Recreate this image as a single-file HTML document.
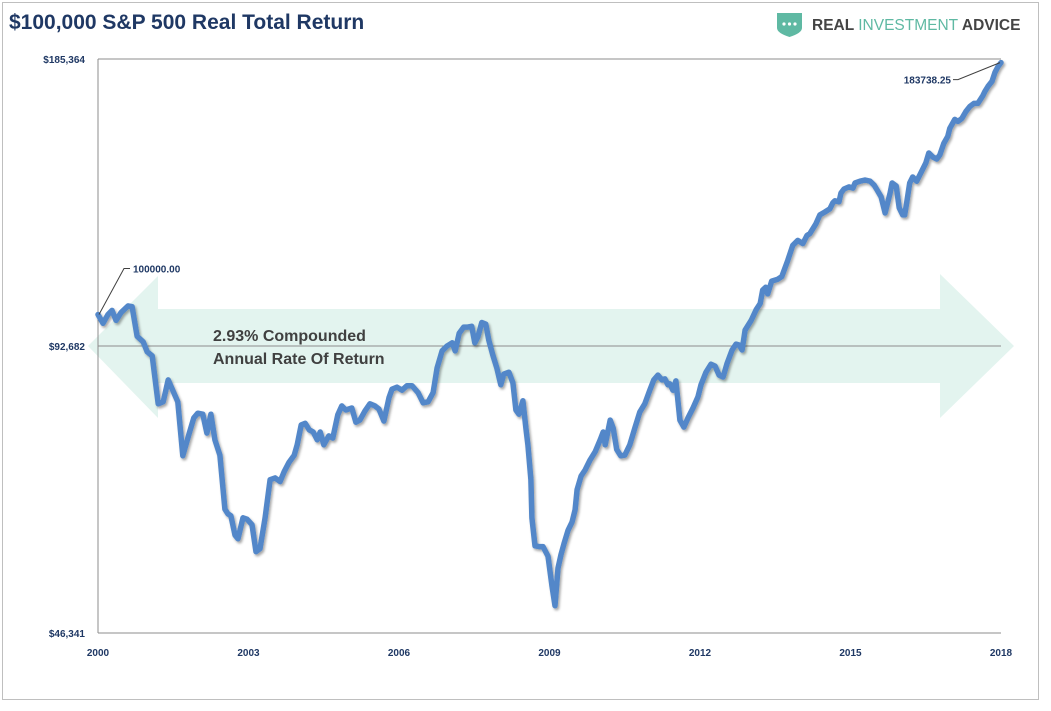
<!DOCTYPE html>
<html><head><meta charset="utf-8"><style>
html,body{margin:0;padding:0;background:#fff;}
body{width:1051px;height:706px;overflow:hidden;font-family:"Liberation Sans",sans-serif;}
</style></head><body>
<svg width="1051" height="706" viewBox="0 0 1051 706" xmlns="http://www.w3.org/2000/svg">
<defs><filter id="sh" x="-5%" y="-5%" width="110%" height="110%"><feDropShadow dx="1.5" dy="2" stdDeviation="1.2" flood-color="#000" flood-opacity="0.35"/></filter></defs>
<rect x="2.5" y="2.5" width="1036" height="697" fill="#fff" stroke="#bfbfbf"/>
<text x="9" y="29" font-size="21" font-weight="bold" fill="#1f3864">$100,000 S&amp;P 500 Real Total Return</text>
<g>
<path d="M777,13 L802,13 L802,28 Q802,33 789.5,37 Q777,33 777,28 Z" fill="#5fb9a3"/>
<circle cx="784" cy="24" r="1.6" fill="#fff"/><circle cx="789.5" cy="24" r="1.6" fill="#fff"/><circle cx="795" cy="24" r="1.6" fill="#fff"/>
<text x="812" y="30" font-size="15.5" font-weight="bold" fill="#444">REAL <tspan fill="#5fb9a3" font-weight="normal">INVESTMENT</tspan> ADVICE</text>
</g>
<polygon points="88,346 158,276 158,309 940,309 940,274 1014,346 940,418 940,383 158,383 158,418" fill="#e3f4ef"/>
<g id="axes"></g>
<g id="series"></g>
<text x="213" y="341" font-size="16" font-weight="bold" fill="#404040">2.93% Compounded</text>
<text x="213" y="364" font-size="16" font-weight="bold" fill="#404040">Annual Rate Of Return</text>
</svg>
<script>
const dates=[0,.10,.20,.28,.36,.46,.60,.68,.78,.90,.98,1.08,1.20,
1.30,1.40,1.49,1.59,1.69,1.81,1.91,1.99,2.09,2.17,2.25,2.33,2.43,2.53,2.59,
2.65,2.73,2.79,2.89,2.97,3.07,3.15,3.23,3.33,3.43,3.53,3.63,3.71,3.81,3.91,3.97,4.05,
4.13,4.21,4.29,4.37,4.43,4.50,4.60,4.68,4.78,4.86,4.94,5.06,5.14,5.22,5.32,5.42,5.52,
5.60,5.70,5.80,5.86,5.96,6.06,6.16,6.26,6.38,6.48,6.58,6.68,6.76,6.86,6.96,7.06,
7.12,7.20,7.29,7.37,7.45,7.51,7.57,7.65,7.73,7.79,7.87,7.95,8.03,8.09,8.19,8.27,8.33,8.39,8.47,
8.53,8.57,8.63,8.65,8.71,8.79,8.87,8.97,9.05,9.11,9.17,9.23,9.29,9.37,9.45,9.51,9.55,9.63,9.71,9.81,9.91,10.01,
10.07,10.11,10.21,10.27,10.34,10.42,10.50,10.60,10.70,10.80,10.90,11.00,11.08,11.16,11.24,11.30,11.36,11.40,11.46,
11.52,11.60,11.68,11.76,11.86,11.96,12.02,12.12,12.22,12.30,12.38,12.46,12.54,12.64,12.72,12.78,12.84,12.90,
13.02,13.12,13.20,13.25,13.31,13.35,13.43,13.55,13.63,13.75,13.85,13.95,14.05,14.13,14.19,14.31,14.39,
14.49,14.59,14.65,14.69,14.77,14.81,14.87,14.97,15.05,15.09,15.19,15.29,15.39,15.47,15.53,15.61,15.69,
15.79,15.83,15.91,15.97,16.04,16.08,16.12,16.18,16.24,16.32,16.40,16.50,16.56,16.64,16.72,16.78,16.86,
16.94,16.98,17.08,17.14,17.22,17.30,17.38,17.46,17.54,17.64,17.68,17.74,17.82,17.88,17.94,18.00];
const values=[100.0,97.9,100.0,101.0,98.6,100.5,102.1,101.9,94.9,93.6,91.4,90.5,80.6,
81.0,85.4,83.3,81.0,71.1,74.8,77.9,78.8,78.6,75.1,78.6,73.9,71.2,62.5,61.8,
61.5,58.7,58.2,61.2,61.0,60.2,56.4,56.8,61.2,67.1,67.4,66.8,68.4,70.0,71.2,73.0,76.6,
76.9,75.7,75.3,73.9,75.3,73.0,74.6,74.2,78.5,80.2,79.4,79.8,77.1,77.5,79.2,80.6,80.2,
79.6,77.3,81.8,83.5,83.9,83.3,84.2,84.2,82.8,80.8,81.0,82.8,87.9,91.6,92.7,93.4,
91.6,95.6,97.0,97.0,97.2,93.4,94.7,98.1,97.7,94.0,90.7,87.9,84.4,86.6,87.0,84.8,79.4,78.6,81.2,
76.0,73.0,67.1,61.2,57.2,57.1,57.1,55.8,51.9,49.5,54.2,56.0,57.5,59.4,60.6,62.4,65.5,67.7,68.7,70.4,71.8,73.9,
75.3,73.0,77.5,76.0,72.2,71.1,71.2,73.0,76.0,79.0,80.6,83.3,85.4,86.4,85.4,85.6,84.4,84.6,83.3,
85.2,77.5,76.2,77.9,79.8,82.0,84.4,87.0,88.7,88.3,86.4,86.0,88.9,91.8,93.1,92.9,91.8,96.3,
98.6,101.2,102.7,106.1,106.8,105.1,108.4,108.9,109.6,114.0,118.2,119.6,118.7,121.0,121.6,124.5,127.2,
128.1,129.1,131.0,131.6,131.3,134.1,135.4,136.1,135.7,137.4,138.0,138.4,138.0,136.7,135.1,132.9,127.8,
134.1,137.4,136.4,129.4,127.2,127.2,131.0,137.4,139.4,138.0,140.7,144.2,147.7,146.3,145.6,147.0,151.2,
153.8,156.8,160.2,159.4,160.6,163.3,165.3,166.5,166.5,169.7,171.4,173.5,175.6,179.5,182.0,183.738];
const yTicks=[46.341,92.682,185.364];
const yTickLabels=["$46,341","$92,682","$185,364"];
const xTicks=[0,3,6,9,12,15,18];
const xTickLabels=["2000","2003","2006","2009","2012","2015","2018"];
const firstLabel="100000.00", lastLabel="183738.25";

const NS="http://www.w3.org/2000/svg";
const X0=98,X1=1001,YT=59,YB=633;
const xS=d=>X0+(d-0)/(18-0)*(X1-X0);
const lmin=Math.log(46.341),lmax=Math.log(185.364);
const yS=v=>YB-(Math.log(v)-lmin)/(lmax-lmin)*(YB-YT);
function mk(tag,attrs,parent){const e=document.createElementNS(NS,tag);for(const k in attrs)e.setAttribute(k,attrs[k]);parent.appendChild(e);return e;}
const ax=document.getElementById('axes'), sr=document.getElementById('series');
yTicks.forEach((t,i)=>{
  const y=yS(t);
  if(i>0){const g=mk('line',{x1:X0,x2:X1,y1:y,y2:y,stroke:'#8c8c8c','stroke-width':1},ax);
  
  }
  const tx=mk('text',{x:85,y:y+4,'text-anchor':'end','font-size':10,'font-weight':'bold',fill:'#1f3864'},ax);
  tx.textContent=yTickLabels[i];
  
  
});
const yl=mk('line',{x1:X0,x2:X0,y1:YT,y2:YB,stroke:'#8c8c8c'},ax);


const xl=mk('line',{x1:X0,x2:X1,y1:YB,y2:YB,stroke:'#8c8c8c'},ax);


xTicks.forEach((t,i)=>{
  const tx=mk('text',{x:xS(t),y:656,'text-anchor':'middle','font-size':10,'font-weight':'bold',fill:'#1f3864'},ax);
  tx.textContent=xTickLabels[i];
  
  
});
let d='';
dates.forEach((t,i)=>{d+=(i?'L':'M')+xS(t).toFixed(1)+','+yS(values[i]).toFixed(1);});
const p=mk('path',{d:d,fill:'none',stroke:'#5287c9','stroke-width':5.5,'stroke-linejoin':'round','stroke-linecap':'round',filter:'url(#sh)'},sr);


const fx=xS(dates[0]),fy=yS(values[0]);
const l1=mk('polyline',{points:`${fx+1},${fy} ${fx+26},${fy-46} ${fx+32},${fy-46}`,fill:'none',stroke:'#404040','stroke-width':1},sr);


const t1=mk('text',{x:fx+35,y:fy-42,'font-size':10,'font-weight':'bold',fill:'#1f3864'},sr);
t1.textContent=firstLabel;


const n=dates.length-1,lx=xS(dates[n]),ly=yS(values[n]);
const l2=mk('polyline',{points:`${lx-1},${ly} ${lx-43},${ly+17} ${lx-48},${ly+17}`,fill:'none',stroke:'#404040','stroke-width':1},sr);


const t2=mk('text',{x:lx-50,y:ly+21,'text-anchor':'end','font-size':10,'font-weight':'bold',fill:'#1f3864'},sr);
t2.textContent=lastLabel;


</script>
</body></html>
